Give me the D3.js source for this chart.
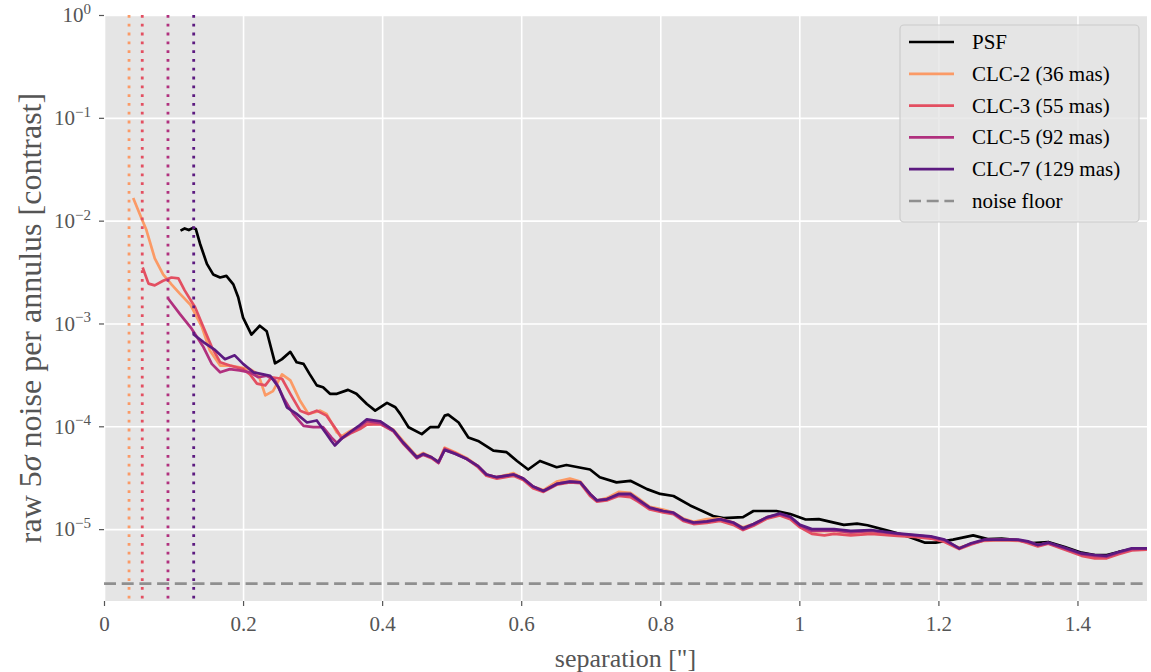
<!DOCTYPE html>
<html>
<head>
<meta charset="utf-8">
<script src="https://cdn.jsdelivr.net/npm/d3@7"></script>
<style>
body { margin: 0; background: #fff; }
svg { display: block; }
svg text { font-family: "Liberation Serif", "DejaVu Serif", serif; }
</style>
</head>
<body>
<svg id="chart" width="1151" height="672"></svg>
<script>
// ---- data ----
const seriesNames = ['PSF', 'CLC-2 (36 mas)', 'CLC-3 (55 mas)', 'CLC-5 (92 mas)', 'CLC-7 (129 mas)']
const seriesColors = ['#000000', '#fb9a66', '#e34f61', '#b0307e', '#5c1a80']
const innerWorkingAngles = [0.036, 0.055, 0.092, 0.129]
const noiseFloor = 2.95e-6
const xTicks = [0, 0.2, 0.4, 0.6, 0.8, 1, 1.2, 1.4]
const yTicks = [1e-5, 1e-4, 1e-3, 1e-2, 1e-1, 1]

const psf = [
  [0.110,8.0e-3],[0.116,8.4e-3],[0.122,8.1e-3],[0.128,8.5e-3],[0.132,8.3e-3],[0.138,6.0e-3],[0.148,3.8e-3],
  [0.157,3.0e-3],[0.167,2.8e-3],[0.176,2.9e-3],[0.186,2.4e-3],[0.193,1.8e-3],[0.200,1.14e-3],[0.212,7.8e-4],
  [0.224,9.5e-4],[0.234,8.4e-4],[0.246,4.1e-4],[0.256,4.5e-4],[0.268,5.3e-4],[0.277,4.2e-4],[0.287,4.05e-4],
  [0.296,3.2e-4],[0.306,2.5e-4],[0.315,2.4e-4],[0.325,2.07e-4],[0.335,2.07e-4],[0.351,2.26e-4],[0.363,2.07e-4],
  [0.378,1.65e-4],[0.390,1.42e-4],[0.407,1.69e-4],[0.419,1.53e-4],[0.426,1.32e-4],[0.438,9.8e-5],[0.457,8.4e-5],
  [0.469,9.8e-5],[0.481,9.8e-5],[0.490,1.27e-4],[0.495,1.3e-4],[0.510,1.09e-4],[0.524,7.8e-5],[0.538,7.2e-5],
  [0.560,5.8e-5],[0.579,5.6e-5],[0.594,4.6e-5],[0.610,3.8e-5],[0.627,4.6e-5],[0.651,4.0e-5],[0.665,4.2e-5],
  [0.699,3.8e-5],[0.713,3.2e-5],[0.737,2.85e-5],[0.757,2.95e-5],[0.781,2.45e-5],[0.800,2.2e-5],[0.819,2.1e-5],
  [0.843,1.7e-5],[0.876,1.34e-5],[0.891,1.28e-5],[0.919,1.31e-5],[0.934,1.5e-5],[0.967,1.5e-5],[0.987,1.4e-5],
  [1.009,1.24e-5],[1.028,1.25e-5],[1.064,1.1e-5],[1.083,1.13e-5],[1.098,1.09e-5],[1.131,9.5e-6],[1.156,8.5e-6],
  [1.180,7.4e-6],[1.196,7.4e-6],[1.221,7.9e-6],[1.250,8.7e-6],[1.271,8.0e-6],[1.291,8.1e-6],[1.315,7.8e-6],
  [1.335,7.3e-6],[1.358,7.5e-6],[1.382,6.7e-6],[1.406,5.9e-6],[1.425,5.6e-6],[1.442,5.6e-6],[1.459,6.0e-6],
  [1.478,6.4e-6],[1.500,6.3e-6]
]

const clc2 = [
  [0.042,1.66e-2],[0.053,1.09e-2],[0.061,8.1e-3],[0.073,4.3e-3],[0.085,3.0e-3],[0.097,2.4e-3],[0.109,1.95e-3],
  [0.124,1.53e-3],[0.133,1.17e-3],[0.141,9.2e-4],[0.152,5.5e-4],[0.167,3.9e-4],[0.181,3.9e-4],[0.195,3.75e-4],
  [0.210,3.6e-4],[0.222,3.2e-4],[0.232,2.0e-4],[0.243,2.2e-4],[0.256,3.2e-4],[0.268,2.8e-4],[0.282,1.77e-4],
  [0.294,1.32e-4],[0.311,1.42e-4],[0.320,1.32e-4],[0.335,8.7e-5],[0.342,8.0e-5],[0.354,9.0e-5],[0.368,1.0e-4],
  [0.378,1.08e-4],[0.397,1.07e-4],[0.416,9.3e-5],[0.430,7.2e-5],[0.450,5.1e-5],[0.459,5.5e-5],[0.471,5.0e-5],
  [0.481,4.5e-5],[0.490,6.2e-5],[0.505,5.6e-5],[0.522,4.9e-5],[0.538,4.1e-5],[0.550,3.4e-5],[0.565,3.2e-5],
  [0.589,3.5e-5],[0.603,3.1e-5],[0.617,2.6e-5],[0.632,2.4e-5],[0.651,2.9e-5],[0.670,3.1e-5],[0.685,2.9e-5],
  [0.699,2.2e-5],[0.709,1.9e-5],[0.723,2.0e-5],[0.740,2.3e-5],[0.757,2.25e-5],[0.768,2.0e-5],[0.785,1.65e-5],
  [0.804,1.55e-5],[0.819,1.45e-5],[0.833,1.27e-5],[0.848,1.18e-5],[0.867,1.25e-5],[0.886,1.27e-5],[0.905,1.16e-5],
  [0.919,1.04e-5],[0.934,1.12e-5],[0.953,1.3e-5],[0.972,1.38e-5],[0.987,1.28e-5],[1.001,1.07e-5],[1.018,9.5e-6],
  [1.050,9.6e-6],[1.074,9.2e-6],[1.103,9.5e-6],[1.141,8.8e-6],[1.165,8.6e-6],[1.189,8.2e-6],[1.209,7.6e-6],
  [1.230,6.6e-6],[1.247,7.2e-6],[1.266,7.7e-6],[1.291,7.8e-6],[1.315,7.7e-6],[1.329,7.5e-6],[1.343,7.0e-6],
  [1.358,7.3e-6],[1.382,6.4e-6],[1.406,5.6e-6],[1.425,5.3e-6],[1.442,5.3e-6],[1.459,5.8e-6],[1.478,6.3e-6],
  [1.500,6.4e-6]
]

const clc3 = [
  [0.0556,3.5e-3],[0.064,2.44e-3],[0.073,2.35e-3],[0.085,2.6e-3],[0.097,2.8e-3],[0.107,2.75e-3],[0.116,2.1e-3],
  [0.131,1.44e-3],[0.143,9.2e-4],[0.155,5.9e-4],[0.167,4.2e-4],[0.181,3.9e-4],[0.200,3.6e-4],[0.210,3.2e-4],
  [0.220,2.6e-4],[0.232,2.5e-4],[0.241,3.0e-4],[0.256,2.9e-4],[0.268,2.07e-4],[0.282,1.42e-4],[0.294,1.32e-4],
  [0.306,1.42e-4],[0.320,1.27e-4],[0.335,9.1e-5],[0.342,7.6e-5],[0.354,8.5e-5],[0.368,9.4e-5],[0.378,1.04e-4],
  [0.397,1.05e-4],[0.416,9.0e-5],[0.430,6.8e-5],[0.450,4.9e-5],[0.459,5.3e-5],[0.471,4.9e-5],[0.481,4.4e-5],
  [0.490,6.1e-5],[0.505,5.5e-5],[0.522,4.8e-5],[0.538,4.0e-5],[0.550,3.3e-5],[0.565,3.1e-5],[0.589,3.3e-5],
  [0.603,3.0e-5],[0.617,2.5e-5],[0.632,2.3e-5],[0.651,2.7e-5],[0.670,2.85e-5],[0.685,2.8e-5],[0.699,2.1e-5],
  [0.709,1.85e-5],[0.723,1.9e-5],[0.740,2.1e-5],[0.757,2.05e-5],[0.768,1.85e-5],[0.785,1.55e-5],[0.804,1.45e-5],
  [0.819,1.4e-5],[0.833,1.2e-5],[0.848,1.12e-5],[0.867,1.15e-5],[0.886,1.2e-5],[0.905,1.1e-5],[0.919,9.8e-6],
  [0.934,1.08e-5],[0.953,1.26e-5],[0.972,1.36e-5],[0.987,1.25e-5],[1.001,1.04e-5],[1.018,9.0e-6],[1.036,8.7e-6],
  [1.050,9.0e-6],[1.074,8.7e-6],[1.103,9.0e-6],[1.141,8.6e-6],[1.165,8.4e-6],[1.189,8.1e-6],[1.209,7.5e-6],
  [1.230,6.4e-6],[1.247,7.1e-6],[1.266,7.8e-6],[1.291,7.9e-6],[1.315,7.8e-6],[1.329,7.3e-6],[1.343,6.8e-6],
  [1.358,7.2e-6],[1.382,6.3e-6],[1.406,5.5e-6],[1.425,5.2e-6],[1.442,5.2e-6],[1.459,5.7e-6],[1.478,6.2e-6],
  [1.500,6.3e-6]
]

const clc5 = [
  [0.0925,1.74e-3],[0.109,1.24e-3],[0.126,8.9e-4],[0.143,5.9e-4],[0.155,4.05e-4],[0.167,3.35e-4],[0.181,3.6e-4],
  [0.195,3.5e-4],[0.210,3.35e-4],[0.222,3.0e-4],[0.234,3.1e-4],[0.246,2.8e-4],[0.258,1.9e-4],[0.272,1.32e-4],
  [0.287,1.01e-4],[0.301,9.8e-5],[0.315,9.8e-5],[0.327,7.8e-5],[0.335,6.9e-5],[0.342,7.7e-5],[0.354,8.7e-5],
  [0.368,1.0e-4],[0.378,1.12e-4],[0.397,1.08e-4],[0.416,9.0e-5],[0.430,6.9e-5],[0.450,4.9e-5],[0.459,5.3e-5],
  [0.471,5.0e-5],[0.481,4.4e-5],[0.490,5.9e-5],[0.505,5.4e-5],[0.522,4.8e-5],[0.538,4.1e-5],[0.550,3.4e-5],
  [0.565,3.2e-5],[0.589,3.4e-5],[0.603,3.1e-5],[0.617,2.6e-5],[0.632,2.35e-5],[0.651,2.75e-5],[0.670,2.9e-5],
  [0.685,2.85e-5],[0.699,2.2e-5],[0.709,1.9e-5],[0.723,1.95e-5],[0.740,2.15e-5],[0.757,2.15e-5],[0.768,1.9e-5],
  [0.785,1.6e-5],[0.804,1.5e-5],[0.819,1.42e-5],[0.833,1.23e-5],[0.848,1.14e-5],[0.867,1.18e-5],[0.886,1.24e-5],
  [0.905,1.15e-5],[0.919,1.0e-5],[0.934,1.1e-5],[0.953,1.3e-5],[0.972,1.4e-5],[0.987,1.3e-5],[1.001,1.08e-5],
  [1.018,9.6e-6],[1.050,9.7e-6],[1.074,9.3e-6],[1.103,9.6e-6],[1.141,9.0e-6],[1.165,8.7e-6],[1.189,8.4e-6],
  [1.209,7.8e-6],[1.230,6.5e-6],[1.247,7.2e-6],[1.266,7.8e-6],[1.291,7.9e-6],[1.315,7.8e-6],[1.329,7.5e-6],
  [1.343,7.0e-6],[1.358,7.3e-6],[1.382,6.5e-6],[1.406,5.7e-6],[1.425,5.5e-6],[1.442,5.4e-6],[1.459,5.9e-6],
  [1.478,6.4e-6],[1.500,6.5e-6]
]

const clc7 = [
  [0.128,7.9e-4],[0.143,6.6e-4],[0.160,5.5e-4],[0.174,4.5e-4],[0.188,4.9e-4],[0.200,4.05e-4],[0.215,3.35e-4],
  [0.229,3.2e-4],[0.239,3.1e-4],[0.251,2.4e-4],[0.263,1.53e-4],[0.277,1.32e-4],[0.292,1.09e-4],[0.306,1.14e-4],
  [0.320,8.4e-5],[0.327,7.2e-5],[0.332,6.5e-5],[0.342,7.6e-5],[0.354,8.8e-5],[0.368,1.03e-4],[0.378,1.17e-4],
  [0.397,1.12e-4],[0.416,9.2e-5],[0.430,7.0e-5],[0.450,5.0e-5],[0.459,5.4e-5],[0.471,5.0e-5],[0.481,4.5e-5],
  [0.490,5.9e-5],[0.505,5.4e-5],[0.522,4.8e-5],[0.538,4.1e-5],[0.550,3.4e-5],[0.565,3.2e-5],[0.589,3.4e-5],
  [0.603,3.1e-5],[0.617,2.6e-5],[0.632,2.35e-5],[0.651,2.75e-5],[0.670,2.9e-5],[0.685,2.85e-5],[0.699,2.2e-5],
  [0.709,1.9e-5],[0.723,1.95e-5],[0.740,2.2e-5],[0.757,2.2e-5],[0.768,1.95e-5],[0.785,1.62e-5],[0.804,1.5e-5],
  [0.819,1.45e-5],[0.833,1.25e-5],[0.848,1.16e-5],[0.867,1.19e-5],[0.886,1.25e-5],[0.905,1.16e-5],[0.919,1.02e-5],
  [0.934,1.12e-5],[0.953,1.3e-5],[0.972,1.42e-5],[0.987,1.32e-5],[1.001,1.1e-5],[1.018,1.0e-5],[1.050,1.0e-5],
  [1.074,9.6e-6],[1.103,9.8e-6],[1.141,9.1e-6],[1.165,8.8e-6],[1.189,8.5e-6],[1.209,7.9e-6],[1.230,6.5e-6],
  [1.247,7.3e-6],[1.266,7.9e-6],[1.291,7.9e-6],[1.315,7.9e-6],[1.329,7.6e-6],[1.343,7.0e-6],[1.358,7.4e-6],
  [1.382,6.6e-6],[1.406,5.8e-6],[1.425,5.6e-6],[1.442,5.5e-6],[1.459,6.0e-6],[1.478,6.5e-6],[1.500,6.5e-6]
]

const allSeries = [psf, clc2, clc3, clc5, clc7]

// ---- layout ----
const svg = d3.select('#chart')
const plotLeft = 104, plotRight = 1147, plotTop = 15, plotBottom = 601
const gray = '#555555'
const serif = '"Liberation Serif", "DejaVu Serif", serif'

const x = d3.scaleLinear().domain([0, 1.5]).range([plotLeft, plotRight])
const y = d3.scaleLog().domain([2e-6, 1]).range([plotBottom, plotTop])

svg.append('defs').append('clipPath').attr('id', 'plotclip')
  .append('rect').attr('x', plotLeft).attr('y', plotTop)
  .attr('width', plotRight - plotLeft).attr('height', plotBottom - plotTop)

svg.append('rect')
  .attr('x', plotLeft).attr('y', plotTop)
  .attr('width', plotRight - plotLeft).attr('height', plotBottom - plotTop)
  .attr('fill', '#e5e5e5')

// grid
const xGrid = svg.append('g')
  .attr('transform', `translate(0,${plotBottom})`)
  .call(d3.axisBottom(x).tickValues(xTicks).tickSize(-(plotBottom - plotTop)).tickFormat(''))
const yGrid = svg.append('g')
  .attr('transform', `translate(${plotLeft},0)`)
  .call(d3.axisLeft(y).tickValues(yTicks).tickSize(-(plotRight - plotLeft)).tickFormat(''))
svg.selectAll('.domain').remove()
xGrid.selectAll('.tick line').attr('stroke', '#ffffff').attr('stroke-width', 1.6)
yGrid.selectAll('.tick line').attr('stroke', '#ffffff').attr('stroke-width', 1.6)

// axes (ticks + labels)
const xAxis = svg.append('g')
  .attr('transform', `translate(0,${plotBottom})`)
  .call(d3.axisBottom(x).tickValues(xTicks).tickSize(5).tickPadding(10).tickFormat(d => d3.format('~g')(d)))
xAxis.select('.domain').remove()
xAxis.selectAll('.tick line').attr('stroke', gray).attr('stroke-width', 1.2)
xAxis.selectAll('.tick text')
  .attr('fill', gray).attr('font-size', '21px')
  .attr('font-family', serif)

const yAxis = svg.append('g')
  .attr('transform', `translate(${plotLeft},0)`)
  .call(d3.axisLeft(y).tickValues(yTicks).tickSize(5).tickPadding(8).tickFormat(''))
yAxis.select('.domain').remove()
yAxis.selectAll('.tick line').attr('stroke', gray).attr('stroke-width', 1.2)
yAxis.selectAll('.tick text')
  .attr('fill', gray).attr('font-size', '21px')
  .attr('font-family', serif)
  .each(function(d) {
    const t = d3.select(this)
    const e = Math.round(Math.log10(d))
    t.append('tspan').text('10')
    t.append('tspan').attr('dy', '-0.55em').attr('font-size', '15px')
      .text(e < 0 ? '\u2212' + Math.abs(e) : String(e))
  })

// axis titles
svg.append('text')
  .attr('x', (plotLeft + plotRight) / 2).attr('y', 667)
  .attr('text-anchor', 'middle')
  .attr('font-family', serif)
  .attr('font-size', '26px').attr('fill', gray)
  .text('separation ["]')

const ylab = svg.append('text')
  .attr('transform', `translate(41,${(plotTop + plotBottom) / 2 + 10}) rotate(-90)`)
  .attr('text-anchor', 'middle')
  .attr('font-family', serif)
  .attr('font-size', '32px').attr('fill', gray)
ylab.append('tspan').text('raw 5')
ylab.append('tspan').attr('font-style', 'italic').text('\u03c3')
ylab.append('tspan').text(' noise per annulus [contrast]')

// plot content
const plot = svg.append('g').attr('clip-path', 'url(#plotclip)')

const line = d3.line().x(d => x(d[0])).y(d => y(d[1])).curve(d3.curveLinear)

allSeries.forEach((s, i) => {
  plot.append('path')
    .datum(s)
    .attr('fill', 'none')
    .attr('stroke', seriesColors[i])
    .attr('stroke-width', 2.7)
    .attr('stroke-linejoin', 'round')
    .attr('d', line)
})

innerWorkingAngles.forEach((a, i) => {
  plot.append('line')
    .attr('x1', x(a)).attr('x2', x(a))
    .attr('y1', y(1)).attr('y2', y(2e-6))
    .attr('stroke', seriesColors[i + 1])
    .attr('stroke-width', 2.8)
    .attr('stroke-dasharray', '2.8 6')
})

plot.append('line')
  .attr('x1', plotLeft).attr('x2', plotRight)
  .attr('y1', y(noiseFloor)).attr('y2', y(noiseFloor))
  .attr('stroke', '#808080').attr('stroke-opacity', 0.85)
  .attr('stroke-width', 2.8)
  .attr('stroke-dasharray', '12 5.7')

// legend
const legend = svg.append('g')
legend.append('rect')
  .attr('x', 900).attr('y', 25).attr('width', 239).attr('height', 197).attr('rx', 4)
  .attr('fill', '#e5e5e5').attr('fill-opacity', 0.8)
  .attr('stroke', '#cccccc').attr('stroke-width', 1.2)

const legendNames = seriesNames.concat(['noise floor'])
legendNames.forEach((name, i) => {
  const cy = 42 + i * 31.8
  const isFloor = i === legendNames.length - 1
  legend.append('line')
    .attr('x1', 909).attr('x2', 954).attr('y1', cy).attr('y2', cy)
    .attr('stroke', isFloor ? '#808080' : seriesColors[i])
    .attr('stroke-opacity', isFloor ? 0.85 : 1)
    .attr('stroke-width', 2.7)
    .attr('stroke-dasharray', isFloor ? '12 5.7' : null)
  legend.append('text')
    .attr('x', 972).attr('y', cy + 7)
    .attr('font-family', serif)
    .attr('font-size', '21px').attr('fill', '#000')
    .text(name)
})
</script>
</body>
</html>
